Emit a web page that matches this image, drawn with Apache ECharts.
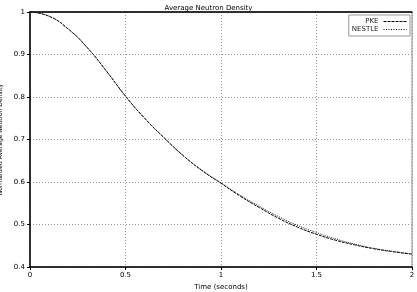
<!DOCTYPE html>
<html>
<head>
<meta charset="utf-8">
<script src="https://cdn.jsdelivr.net/npm/echarts@6/dist/echarts.min.js"></script>
<style>
  html, body { margin: 0; padding: 0; background: #fff; }
  #chart { width: 417px; height: 292px; }
</style>
</head>
<body>
<div id="chart"></div>
<script>
// time in seconds
var times = [0, 0.1, 0.2, 0.3, 0.4, 0.5, 0.6, 0.7, 0.8, 0.9, 1.0,
             1.1, 1.2, 1.3, 1.4, 1.5, 1.6, 1.7, 1.8, 1.9, 2.0];
var pke = [1.000, 0.990, 0.960, 0.916, 0.861, 0.802, 0.750, 0.705, 0.663, 0.627, 0.597,
           0.567, 0.540, 0.515, 0.494, 0.477, 0.463, 0.452, 0.443, 0.436, 0.430];
var nestle = [1.000, 0.990, 0.960, 0.916, 0.861, 0.802, 0.750, 0.705, 0.663, 0.628, 0.598,
              0.569, 0.543, 0.519, 0.498, 0.481, 0.466, 0.454, 0.444, 0.437, 0.431];
var xTicks = ['0', '0.5', '1', '1.5', '2'];

function pairs(ys) {
  return times.map(function (t, i) { return [t, ys[i]]; });
}

var chart = echarts.init(document.getElementById('chart'));
var font = 'DejaVu Sans';
var option = {
  animation: false,
  title: {
    text: 'Average Neutron Density',
    left: 'center',
    top: 0,
    textStyle: { fontFamily: font, fontSize: 7, fontWeight: 'normal', color: '#000' }
  },
  legend: {
    orient: 'vertical',
    right: 7,
    top: 15,
    align: 'right',
    itemWidth: 23,
    itemHeight: 6,
    itemGap: 1,
    padding: [3, 3, 3, 3],
    borderColor: '#999',
    borderWidth: 1,
    itemStyle: { opacity: 0 },
    lineStyle: { width: 1 },
    textStyle: { fontFamily: font, fontSize: 7, color: '#222', padding: [0, 0, 0, 0] },
    data: [
      { name: 'PKE' },
      { name: 'NESTLE', lineStyle: { type: [1, 1.5], color: '#000', width: 1 } }
    ]
  },
  grid: {
    left: 30, right: 5, top: 12, bottom: 25,
    outerBoundsMode: 'none',
    containLabel: false,
    show: true, borderColor: '#888', borderWidth: 1
  },
  xAxis: [{
    type: 'value',
    min: 0, max: 2, interval: 0.5,
    name: 'Time (seconds)',
    nameLocation: 'middle',
    nameGap: 15,
    nameTextStyle: { fontFamily: font, fontSize: 7, color: '#000' },
    axisLine: { lineStyle: { color: '#000', width: 1.5 } },
    axisTick: { show: true, length: 3, lineStyle: { color: '#000' } },
    axisLabel: {
      fontFamily: font, fontSize: 7, color: '#000', margin: 5,
      formatter: function (v) { return xTicks[Math.round(v / 0.5)]; }
    },
    splitLine: { show: true, lineStyle: { color: '#999', type: [1, 2], width: 1 } }
  }, {
    // top frame line
    type: 'value',
    position: 'top',
    min: 0, max: 2,
    axisLine: { show: true, lineStyle: { color: '#000', width: 1.5 } },
    axisTick: { show: false },
    axisLabel: { show: false },
    splitLine: { show: false }
  }],
  yAxis: {
    type: 'value',
    min: 0.4, max: 1, interval: 0.1,
    name: 'Normalized Average Neutron Density',
    nameLocation: 'middle',
    nameGap: 23,
    nameTextStyle: { fontFamily: font, fontSize: 6, color: '#000' },
    axisLine: { show: true, lineStyle: { color: '#000', width: 1.5 } },
    axisTick: { show: true, length: 3, lineStyle: { color: '#000' } },
    axisLabel: {
      fontFamily: font, fontSize: 7, color: '#000', margin: 5,
      formatter: function (v) { return String(Math.round(v * 10) / 10); }
    },
    splitLine: { show: true, lineStyle: { color: '#999', type: [1, 2], width: 1 } }
  },
  series: [
    {
      name: 'PKE',
      type: 'line',
      smooth: true,
      symbol: 'none',
      data: pairs(pke),
      lineStyle: { color: '#000', width: 1, type: [3, 1] }
    },
    {
      name: 'NESTLE',
      type: 'line',
      smooth: true,
      symbol: 'none',
      data: pairs(nestle),
      lineStyle: { color: '#333', width: 1, type: [1, 1] }
    }
  ]
};
chart.setOption(option);
</script>
</body>
</html>
